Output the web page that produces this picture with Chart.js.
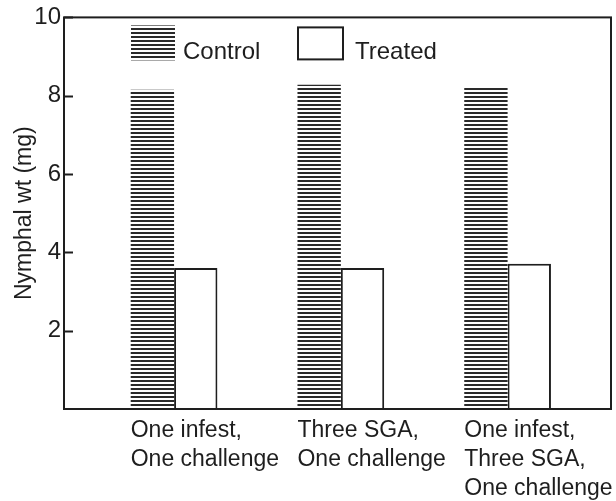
<!DOCTYPE html>
<html>
<head>
<meta charset="utf-8">
<script src="https://cdn.jsdelivr.net/npm/chart.js@4/dist/chart.umd.min.js"></script>
<style>
  html, body { margin: 0; padding: 0; background: #fff; }
  #c { display: block; }
</style>
</head>
<body>
<canvas id="c" width="616" height="501"></canvas>
<script>
// Nymphal weight under three exposure regimes
const groups = [
  ["One infest,", "One challenge"],
  ["Three SGA,", "One challenge"],
  ["One infest,", "Three SGA,", "One challenge"]
];
const seriesNames = ["Control", "Treated"];
const controlWt = [8.15, 8.28, 8.23];
const treatedWt = [3.60, 3.60, 3.71];
const yTicks = [2, 4, 6, 8, 10];

const INK = '#1e1e1e';
const FONT = "'Liberation Sans', Arial, Helvetica, sans-serif";
const GROUP_PCT = 0.52;   // share of the slot taken by a pair of bars

// horizontal hatching used for the control bars
function stripes() {
  const t = document.createElement('canvas');
  t.width = 4; t.height = 4;
  const g = t.getContext('2d');
  g.fillStyle = '#ffffff';
  g.fillRect(0, 0, 4, 4);
  g.fillStyle = '#2a2a2a';
  g.fillRect(0, 0, 4, 2);
  return g.createPattern(t, 'repeat');
}
const ctx = document.getElementById('c').getContext('2d');
const hatch = stripes();

const toPoints = arr => arr.map((v, i) => ({ x: i, y: v }));

// plot frame, inward y tick marks and the in-plot key
const framePlugin = {
  id: 'frame',
  afterDatasetsDraw(chart) {
    const { ctx, chartArea: a, scales } = chart;
    ctx.save();
    ctx.strokeStyle = INK;
    ctx.lineWidth = 2;
    ctx.strokeRect(a.left, a.top, a.right - a.left, a.bottom - a.top);
    ctx.beginPath();
    yTicks.forEach(v => {
      const y = Math.round(scales.y.getPixelForValue(v)) + 0.5;
      ctx.moveTo(a.left, y);
      ctx.lineTo(a.left + 9, y);
    });
    ctx.stroke();

    // key
    const kx = a.left + 67, ky = a.top + 8;
    ctx.fillStyle = hatch;
    ctx.fillRect(kx, ky, 44, 35);
    ctx.fillStyle = '#fff';
    ctx.fillRect(kx + 167, ky + 2, 45, 32);
    ctx.lineWidth = 2;
    ctx.strokeRect(kx + 167, ky + 2, 45, 32);
    ctx.fillStyle = INK;
    ctx.font = '24px ' + FONT;
    ctx.textBaseline = 'alphabetic';
    ctx.textAlign = 'left';
    ctx.fillText(seriesNames[0], kx + 52, ky + 34);
    ctx.fillText(seriesNames[1], kx + 224, ky + 34);
    ctx.restore();
  }
};

new Chart(ctx, {
  type: 'bar',
  data: {
    datasets: [
      {
        label: seriesNames[0],
        data: toPoints(controlWt),
        backgroundColor: hatch,
        borderWidth: 0
      },
      {
        label: seriesNames[1],
        data: toPoints(treatedWt),
        backgroundColor: '#ffffff',
        borderColor: INK,
        borderWidth: 2,
        borderSkipped: 'bottom'
      }
    ]
  },
  options: {
    responsive: false,
    animation: false,
    events: [],
    categoryPercentage: GROUP_PCT,
    barPercentage: 1,
    layout: { padding: { top: 15, right: 5, left: 0, bottom: 0 } },
    plugins: {
      legend: { display: false },
      tooltip: { enabled: false }
    },
    scales: {
      x: {
        type: 'linear',
        offset: false,
        min: -0.66,
        max: 2.62,
        grid: { display: false, drawTicks: false, offset: false },
        border: { display: false },
        afterBuildTicks: s => { s.ticks = groups.map((_, i) => ({ value: i - GROUP_PCT / 2 })); },
        afterFit: s => { s.height = 92; s.paddingLeft = 0; s.paddingRight = 0; },
        ticks: {
          autoSkip: false,
          maxRotation: 0,
          align: 'start',
          padding: 7,
          color: INK,
          font: { family: FONT, size: 23, lineHeight: '29px' },
          callback: (v, i) => groups[i]
        }
      },
      y: {
        min: 0,
        max: 10,
        grid: { display: false, drawTicks: false },
        border: { display: false },
        afterBuildTicks: s => { s.ticks = yTicks.map(v => ({ value: v })); },
        afterFit: s => { s.width = 64; },
        ticks: {
          padding: 3,
          color: INK,
          font: { family: FONT, size: 24 }
        },
        title: {
          display: true,
          text: 'Nymphal wt (mg)',
          color: INK,
          font: { family: FONT, size: 23 },
          padding: { top: 11, bottom: 0 }
        }
      }
    }
  },
  plugins: [framePlugin]
});
</script>
</body>
</html>
